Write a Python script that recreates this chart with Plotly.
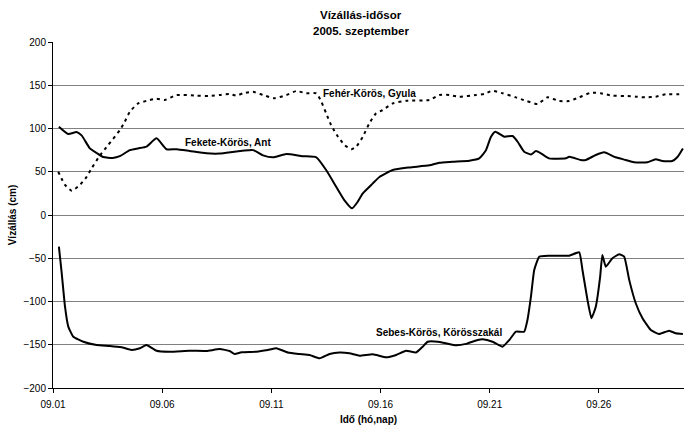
import plotly.graph_objects as go

# Day of September (fractional) and water level (cm)
fekete_days = [1.27, 1.70, 2.08, 2.31, 2.69, 3.00, 3.30, 3.74, 4.06, 4.52, 4.89, 5.28, 5.74, 6.20, 6.66,
               7.26, 8.03, 8.64, 10.16, 10.62, 11.07, 11.69, 12.43, 13.06, 13.51, 13.97, 14.35, 14.70,
               14.96, 15.19, 15.65, 15.95, 16.56, 17.32, 18.24, 18.69, 19.30, 20.07, 20.52, 20.83, 21.06,
               21.26, 21.67, 22.05, 22.28, 22.58, 22.89, 23.12, 23.35, 23.72, 24.49, 24.64, 25.17, 25.40,
               25.86, 26.24, 26.77, 27.23, 27.61, 28.22, 28.60, 28.91, 29.36, 29.59, 29.85]
fekete_vals = [102, 93.6, 96, 92, 77, 71.7, 67, 66, 68, 75, 77, 79, 88.6, 76, 76,
               74, 71.3, 71, 75, 69, 66.7, 70.5, 68, 66.7, 52, 32.7, 17, 7.7,
               15.4, 25, 36.6, 44, 52, 55, 57.4, 60.5, 61.6, 62.8, 65.5, 75, 90.5,
               96.3, 90.5, 91.3, 84.7, 73.2, 70, 74, 71.3, 65.5, 65.5, 67.4, 63.6, 63.6,
               69.4, 72.5, 66.7, 63.6, 61, 61, 64.4, 62.4, 62.4, 66.7, 77]

feher_days = [1.24, 1.55, 1.86, 2.23, 2.54, 2.77, 3.15, 3.53, 4.06, 4.29, 4.52, 4.90, 5.28, 5.74, 6.12,
              6.66, 7.57, 8.18, 8.64, 9.09, 9.40, 9.70, 10.16, 10.62, 11.15, 11.69, 12.14, 12.60, 13.06,
              13.29, 13.51, 13.74, 14.05, 14.35, 14.66, 14.89, 15.19, 15.49, 15.80, 16.10, 16.56, 17.17,
              18.24, 18.69, 19.15, 19.61, 20.37, 20.75, 21.13, 21.59, 22.20, 22.66, 23.19, 23.65, 24.18,
              24.64, 25.10, 25.63, 26.09, 26.62, 27.23, 27.69, 28.15, 28.60, 29.06, 29.85]
feher_vals = [50, 34.7, 28, 34.7, 44, 54, 69, 81, 98, 108, 119.4, 129, 132, 134.5, 133,
              138.7, 138, 137.6, 138.7, 140, 138, 140.7, 142.5, 138.7, 135, 138.7, 143.3, 140.7, 140.7,
              131, 117.6, 104, 90.5, 81, 76, 79, 90.5, 106, 117.6, 121.4, 129, 132,
              133, 138.7, 138.7, 136.8, 138.7, 140, 143.7, 140.7, 136, 132, 128.3, 136, 131.8,
              131.8, 136, 141.4, 140.7, 138, 137.6, 136.8, 136, 136.8, 139.5, 139.5]

sebes_days = [1.27, 1.40, 1.55, 1.70, 1.93, 2.39, 3.00, 3.61, 4.14, 4.60, 4.98, 5.28, 5.74, 6.35, 7.26,
              8.03, 8.64, 9.09, 9.32, 9.63, 10.31, 10.84, 11.23, 11.76, 12.29, 12.75, 13.21, 13.67,
              14.12, 14.58, 15.04, 15.65, 16.26, 16.72, 17.17, 17.63, 17.93, 18.16, 18.62, 19.00, 19.46,
              19.92, 20.45, 20.68, 21.13, 21.59, 21.90, 22.20, 22.58, 22.73, 22.89, 23.04, 23.27, 23.72,
              24.64, 25.10, 25.25, 25.48, 25.66, 25.86, 26.06, 26.16, 26.32, 26.62, 26.93, 27.16, 27.39,
              27.69, 28.00, 28.38, 28.76, 29.22, 29.52, 29.85]
sebes_vals = [-36.6, -67.4, -106, -129, -140.7, -146.5, -150.3, -151.4, -153, -156, -154, -150.3, -156.9,
              -158, -156.9, -157.2, -155, -157.2, -160.7, -158.7, -158, -156, -154, -159, -160.7, -161.8,
              -165.7, -160.7, -159, -159.9, -162.6, -161, -164.5, -161.8, -156.9, -159, -152.3, -146.5,
              -146.5, -148.3, -150.6, -149, -144.5, -143.7, -146.5, -152.3, -144.5, -134.9, -134.9,
              -121.4, -94.4, -63.6, -48.2, -47, -47, -43.1, -63.6, -98.3, -119.4, -106, -71.3, -46.2,
              -59.8, -50, -45.4, -48.2, -75, -102, -119.4, -133, -137.6, -133.7, -136.8, -137.6]

x_tickvals = [1, 6, 11, 16, 21, 26]
x_ticktext = ["09.01", "09.06", "09.11", "09.16", "09.21", "09.26"]
y_tickvals = [200, 150, 100, 50, 0, -50, -100, -150, -200]

labels = ["Fehér-Körös, Gyula", "Fekete-Körös, Ant", "Sebes-Körös, Körösszakál"]
label_x = [15.5, 9.0, 18.7]
label_y = [141, 84, -136]

title_lines = ["Vízállás-idősor", "2005. szeptember"]

FONT = "Liberation Sans Narrow, Liberation Sans, Arial, sans-serif"

fig = go.Figure()
fig.add_trace(go.Scatter(x=feher_days, y=feher_vals, mode="lines",
                         line=dict(color="black", width=2, dash="3px,4px", shape="spline", smoothing=0.5)))
fig.add_trace(go.Scatter(x=fekete_days, y=fekete_vals, mode="lines",
                         line=dict(color="black", width=2, shape="spline", smoothing=0.5)))
fig.add_trace(go.Scatter(x=sebes_days, y=sebes_vals, mode="lines",
                         line=dict(color="black", width=2, shape="spline", smoothing=0.4)))

for t, lx, ly in zip(labels, label_x, label_y):
    fig.add_annotation(x=lx, y=ly, xref="x", yref="y", text="<b>" + t + "</b>", showarrow=False,
                       font=dict(family=FONT, size=10, color="black"))

# chart title (two lines)
for t, ty in zip(title_lines, [1.079, 1.033]):
    fig.add_annotation(x=0.488, y=ty, xref="paper", yref="paper", text="<b>" + t + "</b>",
                       showarrow=False, xanchor="center", yanchor="middle",
                       font=dict(family=FONT, size=11.5, color="black"))

fig.update_layout(
    width=684, height=425,
    margin=dict(l=53, r=0, t=42, b=37),
    paper_bgcolor="white", plot_bgcolor="white",
    showlegend=False,
    font=dict(family=FONT, size=10, color="black"),
    xaxis=dict(range=[1, 29.9], tickvals=x_tickvals, ticktext=x_ticktext, showgrid=False,
               zeroline=False, showline=True, linecolor="black", linewidth=1,
               ticks="outside", ticklen=4, tickcolor="black", ticklabelstandoff=3,
               tickfont=dict(family=FONT, size=10),
               title=dict(text="<b>Idő (hó,nap)</b>", font=dict(family=FONT, size=10), standoff=9)),
    yaxis=dict(range=[-200, 200], tickvals=y_tickvals, showgrid=True, gridcolor="#808080", gridwidth=1,
               zeroline=False, showline=True, linecolor="black", linewidth=1,
               ticks="outside", ticklen=4, tickcolor="black",
               tickfont=dict(family=FONT, size=10),
               title=dict(text="<b>Vízállás (cm)</b>", font=dict(family=FONT, size=10), standoff=4)),
)

fig.write_html("out.html", config={"displayModeBar": False},
               post_script="document.body.style.margin='0';document.body.style.overflow='hidden';")
